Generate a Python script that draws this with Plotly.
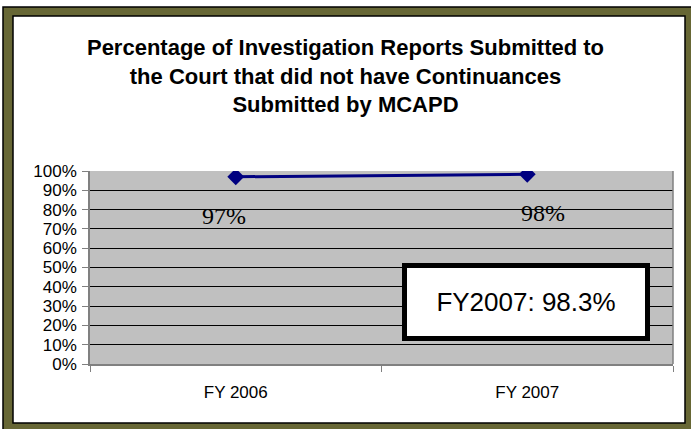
import plotly.graph_objects as go

years = ["FY 2006", "FY 2007"]
pct = [0.97, 0.983]
labels = ["97%", "98%"]
ytick_vals = [0, 0.1, 0.2, 0.3, 0.4, 0.5, 0.6, 0.7, 0.8, 0.9, 1.0]
ytick_text = ["0%", "10%", "20%", "30%", "40%", "50%", "60%", "70%", "80%", "90%", "100%"]
note = "FY2007: 98.3%"

W, H = 691, 429
L, R, T, B = 90, 18, 171, 65
pw, ph = W - L - R, H - T - B

def px(x):
    return (x - L) / pw

def py(y):
    return (H - B - y) / ph

fig = go.Figure()

fig.add_trace(go.Scatter(
    x=years, y=pct, mode="lines+markers",
    line=dict(color="#000080", width=3),
    marker=dict(symbol="diamond", size=13, color="#000080"),
    hoverinfo="skip", showlegend=False))

# data labels under the markers
shifts = [-12, 16]
for x, y, t, s in zip(years, pct, labels, shifts):
    fig.add_annotation(x=x, y=y, text=t, showarrow=False, xshift=s, yshift=-39,
                       font=dict(family="Liberation Serif, Times New Roman", size=24, color="black"))

# outer frame, inner white panel, grey plot area
fig.add_shape(type="rect", xref="paper", yref="paper", x0=px(3), x1=px(700), y0=py(7), y1=py(440),
              fillcolor="#676735", line=dict(color="black", width=1.5), layer="below")
fig.add_shape(type="rect", xref="paper", yref="paper", x0=px(13), x1=px(685), y0=py(16), y1=py(423),
              fillcolor="white", line=dict(color="black", width=1.5), layer="below")
fig.add_shape(type="rect", xref="paper", yref="paper", x0=0, x1=1, y0=0, y1=1,
              fillcolor="#c0c0c0", line=dict(width=0), layer="below")

# callout box
fig.add_annotation(xref="paper", yref="paper", x=px(526), y=py(302), text=note, showarrow=False,
                   xanchor="center", yanchor="middle", width=236, height=66,
                   bgcolor="white", bordercolor="black", borderwidth=5,
                   font=dict(family="Liberation Sans Narrow, Arial Narrow, Liberation Sans", size=26, color="black"))

fig.update_layout(
    width=W, height=H,
    margin=dict(l=L, r=R, t=T, b=B),
    paper_bgcolor="white", plot_bgcolor="rgba(0,0,0,0)",
    title=dict(text="Percentage of Investigation Reports Submitted to<br>the Court that did not have Continuances<br>Submitted by MCAPD",
               x=0.5, xref="container", xanchor="center", y=1 - 55 / H, yanchor="middle",
               font=dict(family="Liberation Sans, Arial", size=22, color="black", weight="bold")),
    font=dict(family="Liberation Sans, Arial", color="black"),
)

fig.update_xaxes(type="category", range=[-0.5, 1.5], tickson="boundaries", ticks="outside",
                 ticklen=6, tickcolor="#808080", showline=True, linecolor="#808080", linewidth=1.5,
                 showgrid=False, tickfont=dict(size=17), ticklabelstandoff=12)
fig.update_yaxes(range=[0, 1], tickvals=ytick_vals, ticktext=ytick_text, ticks="outside",
                 ticklen=6, tickcolor="#808080", showline=True, linecolor="#808080", linewidth=1.5,
                 showgrid=True, gridcolor="black", gridwidth=1, zeroline=False,
                 tickfont=dict(size=17), ticklabelstandoff=2)

# right border of plot area
fig.add_shape(type="line", xref="paper", yref="paper", x0=1, x1=1, y0=0, y1=1,
              line=dict(color="#808080", width=1.5))

# page body has a default margin; drop it so the chart sits at the window origin
fig.write_html("out.html", config={"displayModeBar": False},
               post_script="document.body.style.margin='0';")
